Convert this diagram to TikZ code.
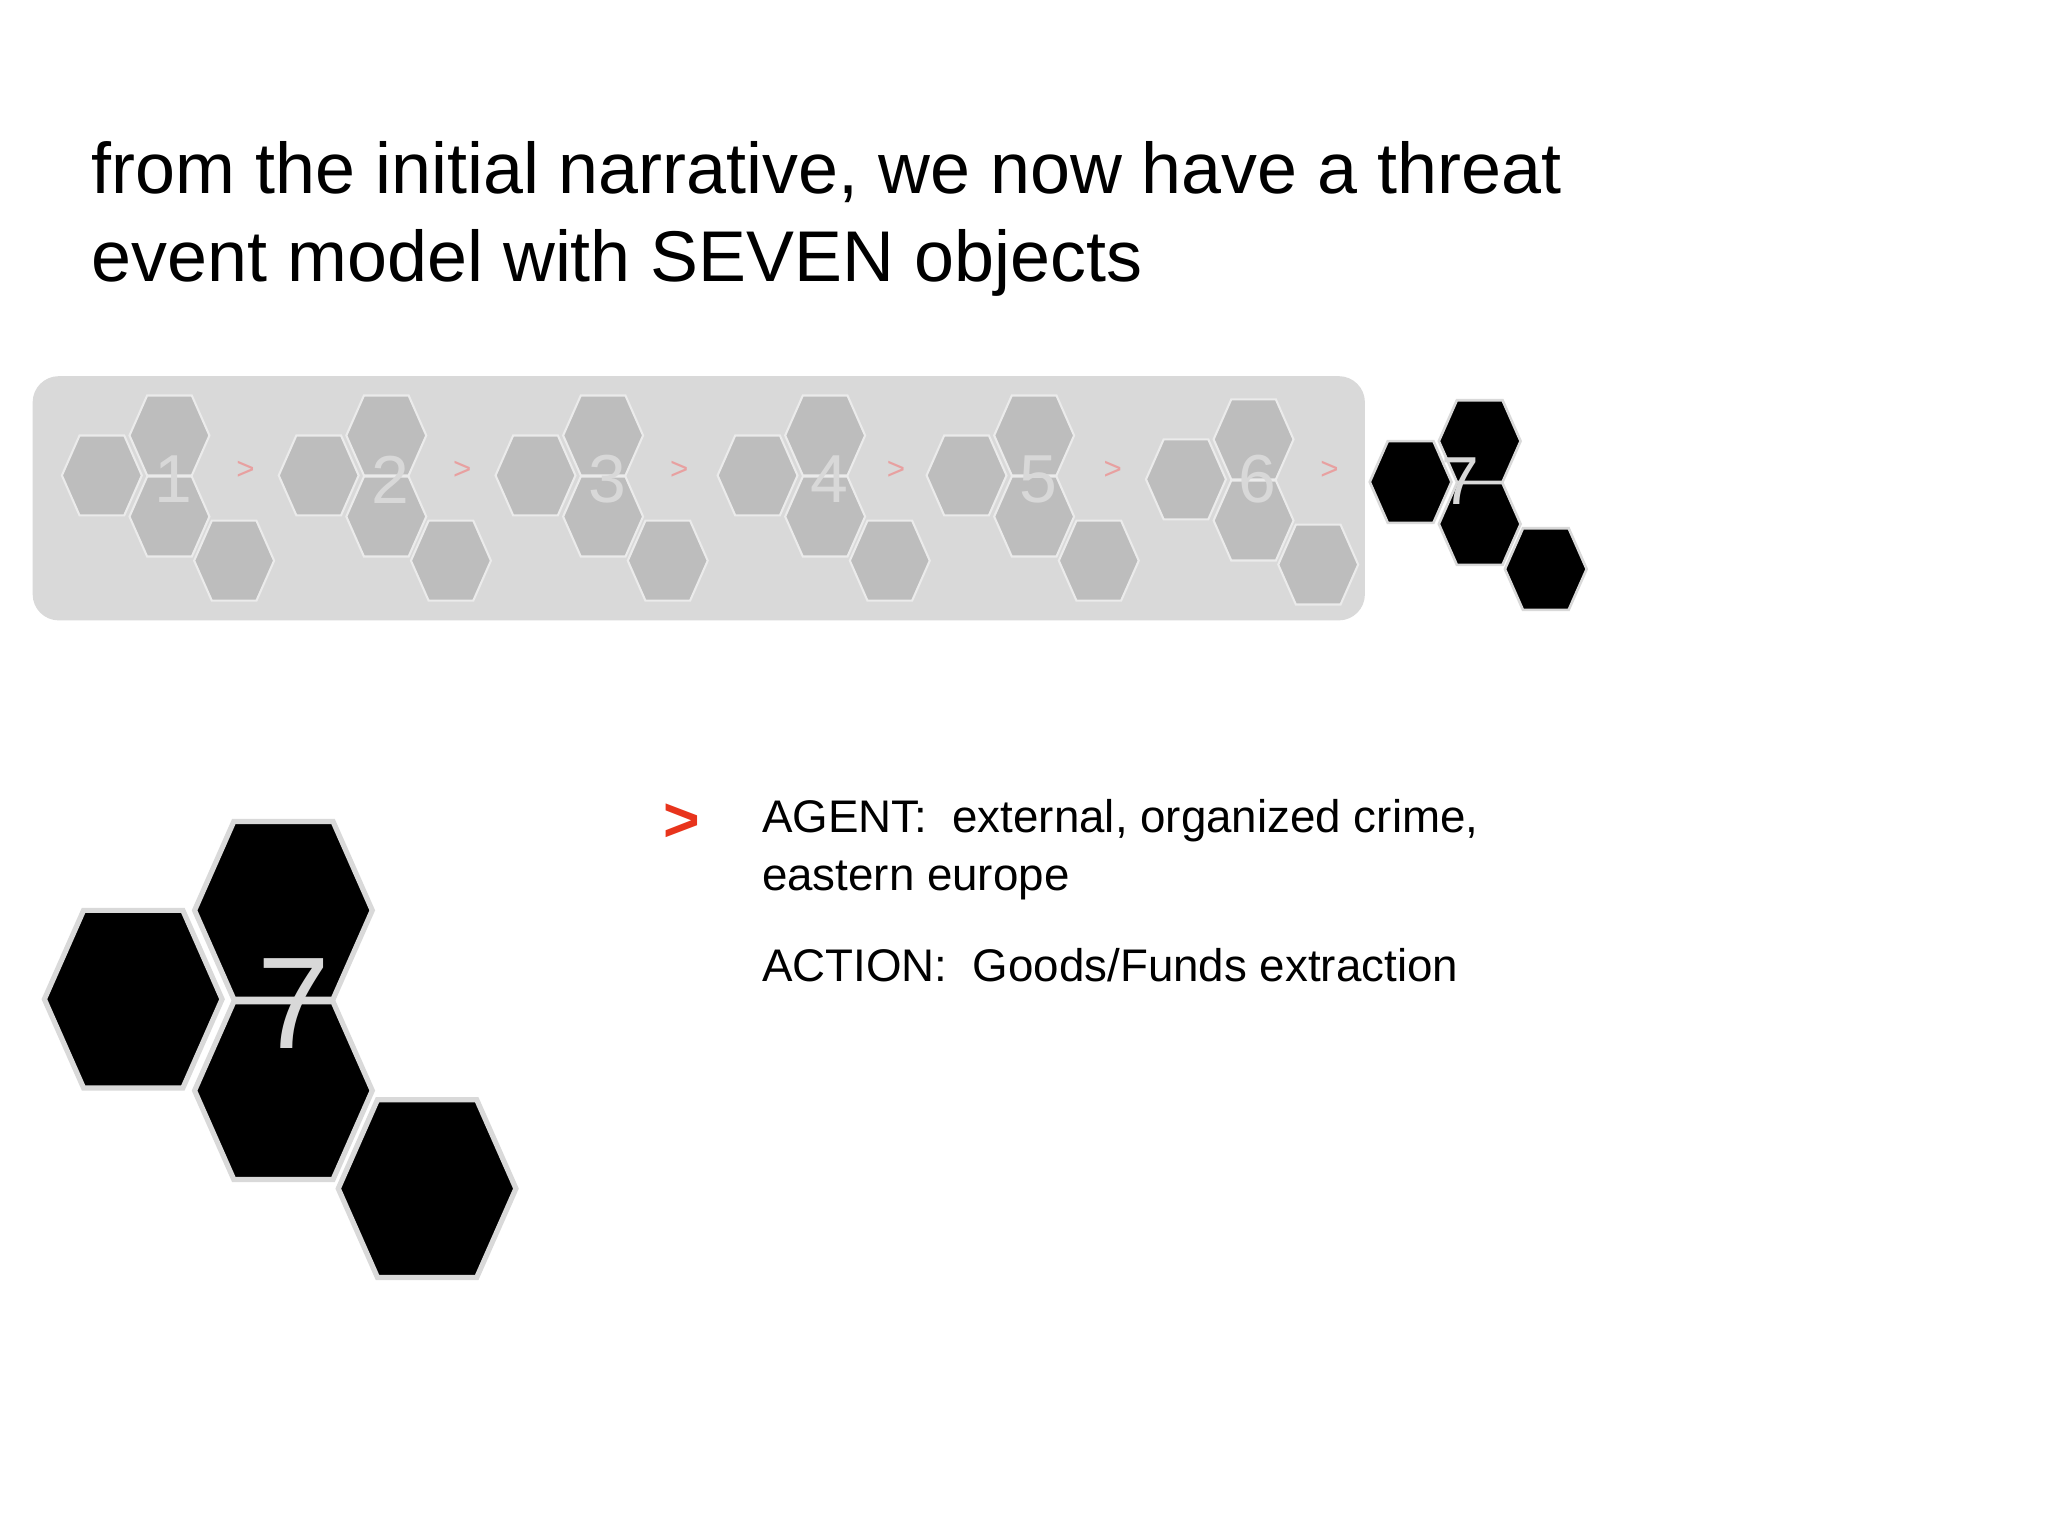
\documentclass[tikz,border=0pt]{standalone}
\usepackage{fontspec}
\setmainfont{Liberation Sans}
\newcommand{\onehex}[3]{\path[#3] (#1,#2) ++(-68,0)--++(30,-68)--++(76,0)--++(30,68)--++(-30,68)--++(-76,0)--cycle;}
\newcommand{\hexcluster}[2]{%
  \begin{scope}[shift={(#1)},#2]
  \onehex{0}{0}{hexs}\onehex{115}{-68}{hexs}\onehex{115}{70}{hexs}\onehex{225}{145}{hexs}
  \end{scope}}
\begin{document}
\begin{tikzpicture}[x=0.5pt,y=-0.5pt,
  graycl/.style={hexs/.style={fill=hexgray,draw=white!92!black,line width=0.8pt}},
  blackcl/.style={hexs/.style={fill=black,draw=white!85!black,line width=1pt}},
  blackbig/.style={hexs/.style={fill=black,draw=white!85!black,line width=2pt}},
  arrowtxt/.style={text=pinkarrow,font=\fontsize{12}{12}\selectfont},
]
\definecolor{hexgray}{HTML}{BDBDBD}
\definecolor{panelgray}{HTML}{D9D9D9}
\definecolor{pinkarrow}{HTML}{E8A0A0}
\definecolor{numgray}{HTML}{D8D8D8}
\definecolor{redmark}{HTML}{E8341C}
\fill[white] (0,0) rectangle (1568,1176);
\useasboundingbox (0,0) rectangle (1568,1176);
\node[anchor=north west,align=left,inner sep=0,font=\fontsize{27.5}{33.5}\selectfont] (title) at (70,108)
 {from the initial narrative, we now have a threat\\event model with SEVEN objects};
\fill[panelgray,rounded corners=10pt] (25,288) rectangle (1045,475);
\hexcluster{78,364}{graycl,scale=0.45}
\hexcluster{244,364}{graycl,scale=0.45}
\hexcluster{410,364}{graycl,scale=0.45}
\hexcluster{580,364}{graycl,scale=0.45}
\hexcluster{740,364}{graycl,scale=0.45}
\hexcluster{908,367}{graycl,scale=0.45}
\foreach \x/\n/\a in {78/1/188,244/2/354,410/3/520,580/4/686,740/5/852,908/6/1018}{
  \node[text=numgray,font=\fontsize{26}{26}\selectfont] (num\n) at (\x+55,367) {\n};
  \node[arrowtxt] (arr\n) at (\a,360) {>};
}
\hexcluster{1080,369}{blackcl,scale=0.46}
\node[text=numgray,font=\fontsize{26}{26}\selectfont] (num7s) at (1118,368) {7};
\hexcluster{102,765}{blackbig}
\node[text=numgray,font=\fontsize{50}{50}\selectfont] (num7) at (225,768) {7};
\node[text=redmark,font=\bfseries\fontsize{24}{24}\selectfont] (mark) at (522,630) {>};
\node[anchor=north west,align=left,inner sep=0,font=\fontsize{17.5}{22}\selectfont] (agent) at (583,612)
 {AGENT:\ \ external, organized crime,\\eastern europe};
\node[anchor=north west,inner sep=0,font=\fontsize{17.5}{22}\selectfont] (action) at (583,726)
 {ACTION:\ \ Goods/Funds extraction};
\end{tikzpicture}
\end{document}
